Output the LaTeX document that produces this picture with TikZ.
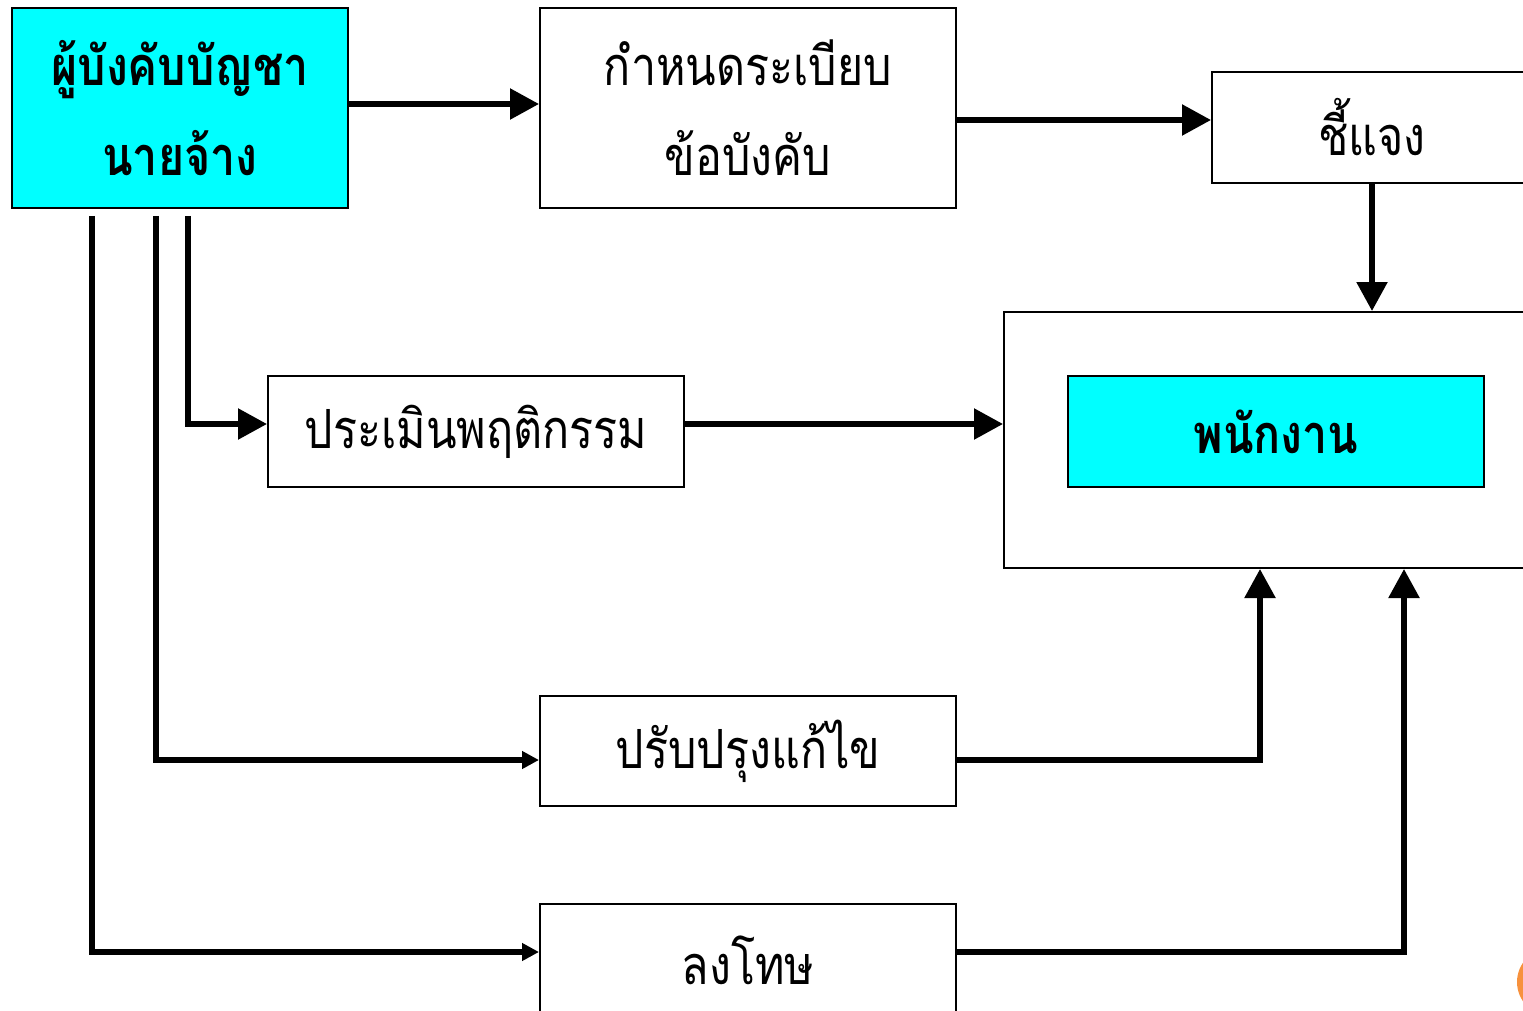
\documentclass[tikz,border=0pt]{standalone}
\usepackage{fontspec}
\usetikzlibrary{arrows.meta}
\newfontfamily\thai[Script=Thai,FakeStretch=0.83]{Loma}
\definecolor{boxcyan}{RGB}{0,255,255}
\definecolor{dotorange}{RGB}{247,145,61}
\tikzset{
  box/.style={draw=black, line width=2pt, inner sep=0pt, align=center,
    font=\thai\fontsize{54}{90}\selectfont},
  keybox/.style={box, fill=boxcyan, font=\thai\bfseries\fontsize{54}{90}\selectfont},
  conn/.style={line width=5.5pt, -{Triangle[length=29pt,width=30pt]}},
  connsmall/.style={line width=5.5pt, -{Triangle[length=17pt,width=17pt]}}
}
\begin{document}
\begin{tikzpicture}[x=1pt,y=-1pt]
\useasboundingbox (0,0) rectangle (1523,1011);
\clip (0,0) rectangle (1523,1011);
\fill[white] (0,0) rectangle (1523,1011);

% boxes
\node[keybox, minimum width=336pt, minimum height=200pt] (A) at (180,108) {ผู้บังคับบัญชา\\นายจ้าง};
\node[box, minimum width=416pt, minimum height=200pt] (B) at (748,108) {กำหนดระเบียบ\\ข้อบังคับ};
\node[box, minimum width=320pt, minimum height=111pt] (C) at (1372,127.5) {ชี้แจง};
\node[box, minimum width=544pt, minimum height=256pt] (D) at (1276,440) {};
\node[keybox, minimum width=416pt, minimum height=111pt] (E) at (1276,431.5) {พนักงาน};
\node[box, minimum width=416pt, minimum height=111pt] (F) at (476,431.5) {ประเมินพฤติกรรม};
\node[box, minimum width=416pt, minimum height=110pt] (G) at (748,751) {ปรับปรุงแก้ไข};
\node[box, minimum width=416pt, minimum height=112pt] (H) at (748,960) {ลงโทษ};

% lines leaving the employer box
\coordinate (s1) at (92,216);
\coordinate (s2) at (156,216);
\coordinate (s3) at (188,216);

% connectors
\draw[conn] (A.east |- 0,104) -- (B.west |- 0,104);
\draw[conn] (B.east |- 0,120) -- (C.west |- 0,120);
\draw[conn] (C.south) -- (C.south |- D.north);
\draw[conn] (s3) |- (F.west |- 0,424);
\draw[conn] (F.east |- 0,424) -- (D.west |- 0,424);
\draw[connsmall] (s2) |- (G.west |- 0,760);
\draw[connsmall] (s1) |- (H.west |- 0,952);
\draw[conn] (G.east |- 0,760) -| (D.south -| 1260,0);
\draw[conn] (H.east |- 0,952) -| (D.south -| 1404,0);

% corner mark
\fill[dotorange] (1551,982) circle (34);
\end{tikzpicture}
\end{document}
